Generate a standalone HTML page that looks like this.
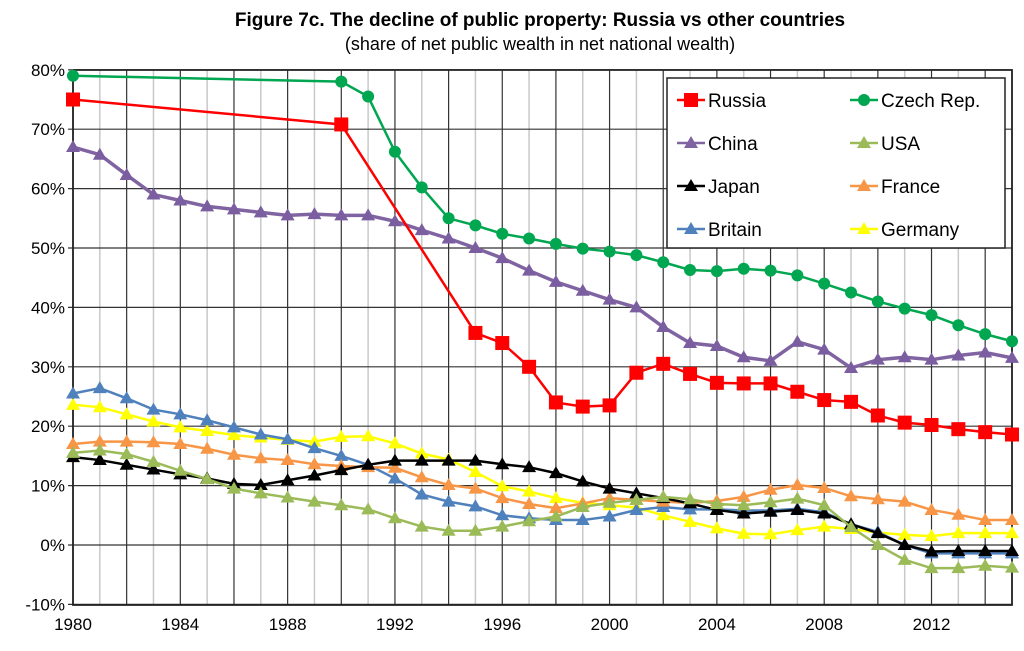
<!DOCTYPE html>
<html><head><meta charset="utf-8"><style>
body{margin:0;background:#fff;font-family:"Liberation Sans",sans-serif}
svg text{font-family:"Liberation Sans",sans-serif}
</style></head><body>
<svg id="c" width="1024" height="646" xmlns="http://www.w3.org/2000/svg">
<text x="540" y="26" text-anchor="middle" font-size="19" font-weight="bold">Figure 7c. The decline of public property: Russia vs other countries</text>
<text x="540" y="50" text-anchor="middle" font-size="18">(share of net public wealth in net national wealth)</text>
<g id="grid"></g><g id="series"></g><g id="legend"></g>
</svg>
<script>
const years=[];for(let y=1980;y<=2015;y++)years.push(y);
const yTicks=[-10,0,10,20,30,40,50,60,70,80];
const xTickYears=[1980,1984,1988,1992,1996,2000,2004,2008,2012];
const N=null;
const russia=[75,N,N,N,N,N,N,N,N,N,70.8,N,N,N,N,35.7,34,30,24,23.3,23.5,29,30.5,28.8,27.3,27.2,27.2,25.8,24.4,24.1,21.8,20.6,20.2,19.5,19,18.6];
const czech=[79,N,N,N,N,N,N,N,N,N,78,75.5,66.2,60.2,55,53.8,52.4,51.6,50.7,49.9,49.4,48.8,47.6,46.3,46.1,46.5,46.2,45.4,44,42.5,41,39.8,38.7,37,35.5,34.3];
const china=[67,65.7,62.3,59,58,57,56.5,56,55.5,55.7,55.5,55.5,54.5,53,51.6,50,48.3,46.2,44.3,42.8,41.3,40,36.7,34,33.5,31.6,31,34.2,32.9,29.8,31.2,31.6,31.2,31.9,32.4,31.5];
const usa=[15.5,15.9,15.3,14,12.5,11.1,9.5,8.7,8,7.3,6.7,6,4.5,3.1,2.4,2.4,3.1,4,4.8,6.4,7.1,7.6,8.1,7.7,6.9,6.7,7.2,7.8,6.7,3,0,-2.5,-3.9,-3.9,-3.5,-3.8];
const japan=[14.8,14.3,13.5,12.7,11.9,11.2,10.3,10.1,10.9,11.7,12.6,13.5,14.2,14.2,14.2,14.2,13.6,13.1,12.1,10.7,9.5,8.7,7.9,7,5.9,5.3,5.6,5.9,5.3,3.5,2,0,-1.1,-1,-1,-1];
const france=[17,17.4,17.4,17.3,17,16.2,15.2,14.6,14.3,13.6,13.3,13.1,13,11.4,10.1,9.5,7.9,6.9,6.2,7,7.9,7.6,7.3,7.1,7.4,8.1,9.3,10.1,9.6,8.2,7.7,7.3,5.9,5.1,4.2,4.2];
const britain=[25.5,26.4,24.7,22.8,22,21,19.8,18.6,17.8,16.3,15,13.5,11.2,8.5,7.3,6.5,5,4.5,4.2,4.2,4.8,5.9,6.4,6,6,5.8,5.8,6.1,5.5,3.5,2.2,0,-1.4,-1.4,-1.4,-1.4];
const germany=[23.6,23.2,22,20.8,19.8,19.2,18.5,18.1,17.7,17.4,18.2,18.3,17.1,15.4,14.4,12.3,9.9,9,7.9,7.1,6.7,6.3,5,3.9,2.8,1.9,1.8,2.5,3.1,2.7,2.1,1.7,1.5,2,2,2];

const L=73,R=1012,T=70,B=605;
const X=y=>L+(y-1980)*(R-L)/35;
const Y=v=>545-v*5.94;
const NS='http://www.w3.org/2000/svg';
function mk(tag,parent,attrs){const e=document.createElementNS(NS,tag);for(const k in attrs)e.setAttribute(k,attrs[k]);parent.appendChild(e);return e;}
const g=document.getElementById('grid');
years.forEach(y=>{const l=mk('line',g,{x1:X(y),x2:X(y),y1:T,y2:B,stroke:(y%2==0)?'#333':'#c8c8c8','stroke-width':(y%2==0)?1.2:1.5});

});
yTicks.forEach(v=>{const l=mk('line',g,{x1:L-5,x2:R,y1:Y(v),y2:Y(v),stroke:'#333','stroke-width':1.2});


const t=mk('text',g,{x:L-8,y:Y(v)+6,'text-anchor':'end','font-size':17});t.textContent=v+'%';

});
xTickYears.forEach(y=>{const t=mk('text',g,{x:X(y),y:B+25,'text-anchor':'middle','font-size':17});t.textContent=y;

});
const ax=mk('path',g,{d:`M${L},${T}V${B}H${R}V${T}H${L}`,fill:'none',stroke:'#222','stroke-width':1.8});



const S=document.getElementById('series');
function marker(p,shape,c,x,y,s){
 if(shape=='sq')return mk('rect',p,{x:x-s,y:y-s,width:2*s,height:2*s,fill:c});
 if(shape=='ci')return mk('circle',p,{cx:x,cy:y,r:s,fill:c});
 return mk('polygon',p,{points:`${x},${y-s-1} ${x-s-1},${y+s-1} ${x+s+1},${y+s-1}`,fill:c});
}
const defs=[
 ['germany',germany,'#ffff00','#ffff00','tr'],['britain',britain,'#4f81bd','#4f81bd','tr'],
 ['france',france,'#f79646','#f79646','tr'],['japan',japan,'#000','#000','tr'],
 ['usa',usa,'#9bbb59','#9bbb59','tr'],['china',china,'#8064a2','#7a5ea0','tr'],
 ['czech',czech,'#00a650','#00a650','ci'],['russia',russia,'#ff0000','#ff0000','sq']];
defs.forEach(([n,arr,c,mc,sh])=>{
 const grp=mk('g',S,{});
 
 
 const pts=[];arr.forEach((v,i)=>{if(v!==null)pts.push([X(years[i]),Y(v)]);});
 const pl=mk('polyline',grp,{points:pts.map(p=>p.join(',')).join(' '),fill:'none',stroke:c,'stroke-width':n=='china'?3.5:2.5});
 
 
 pts.forEach(p=>{const m=marker(grp,sh,mc,p[0],p[1],sh=='sq'?7:6);
 
 });
});

const Lg=document.getElementById('legend');
const box=mk('rect',Lg,{x:667,y:78,width:338,height:170,fill:'#fff',stroke:'#222','stroke-width':1.5});


const items=[['Russia','#ff0000','sq',0,0],['Czech Rep.','#00a650','ci',1,0],['China','#8064a2','tr',0,1],['USA','#9bbb59','tr',1,1],['Japan','#000','tr',0,2],['France','#f79646','tr',1,2],['Britain','#4f81bd','tr',0,3],['Germany','#ffff00','tr',1,3]];
items.forEach(([lab,c,sh,col,row])=>{
 const ent=mk('g',Lg,{});
 
 
 const x0=col?850:677,y0=100+row*43;
 mk('line',ent,{x1:x0,x2:x0+28,y1:y0,y2:y0,stroke:c,'stroke-width':2.5});
 marker(ent,sh,c,x0+14,y0,sh=='sq'?7:6);
 const t=mk('text',ent,{x:x0+31,y:y0+7,'font-size':19});t.textContent=lab;
});
</script>
</body></html>
